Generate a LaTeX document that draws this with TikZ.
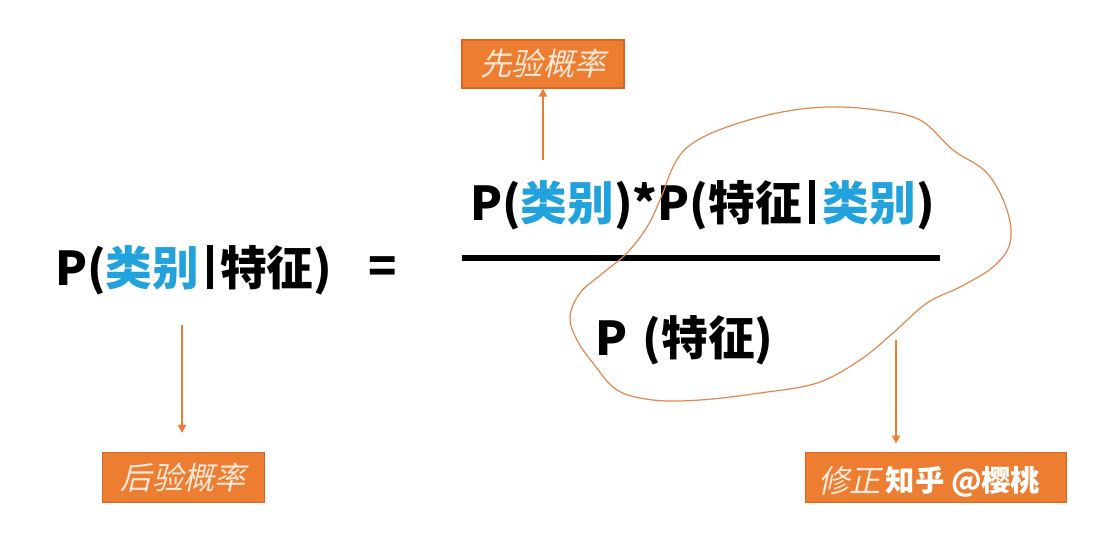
\documentclass[tikz,border=0pt]{standalone}
\usepackage{fontspec}
\setmainfont{Noto Sans CJK SC}
\newfontfamily\boxf{Noto Sans CJK SC}[FakeSlant=0.22]
\usetikzlibrary{arrows.meta}
\definecolor{blu}{HTML}{22A2DC}
\definecolor{org}{HTML}{ED7D31}
\definecolor{orgd}{HTML}{D9661C}
\definecolor{cream}{HTML}{FCE8D8}
\definecolor{loopc}{HTML}{E08850}
\newcommand\mybar{\hspace{0.16em}\rule[-0.08em]{0.13em}{0.95em}\hspace{0.16em}}
\begin{document}
\begin{tikzpicture}[x=0.75pt,y=-0.75pt,
  big/.style={font=\bfseries\fontsize{35}{40}\selectfont, inner sep=0pt, anchor=west},
  lbl/.style={fill=org, draw=orgd, line width=0.8pt, text=cream, inner sep=0pt,
              font=\boxf\fontsize{23.5}{26}\selectfont},
  ptr/.style={draw=org, line width=1.1pt, -{Triangle[length=6pt,width=6pt]}},
  wmark/.style={font=\bfseries\fontsize{22}{26}\selectfont, inner sep=0pt, text=white}]
\useasboundingbox (0,0) rectangle (1096,556);
\fill[white] (0,0) rectangle (1096,556);

% left-hand side
\node[big] (lhs) at (55,270) {P(\textcolor{blu}{类别}\mybar 特征)};
\node[big] (eq) at (368,270) {=};

% fraction
\node[big] (num) at (470,205) {P(\textcolor{blu}{类别})*P(特征\mybar\textcolor{blu}{类别})};
\coordinate (barL) at (462,258);
\coordinate (barR) at (940,258);
\draw[line width=4.5pt] (barL) -- (barR);
\node[big] (den) at (595,340) {P\,\,(特征)};

% labels
\node[lbl, minimum width=121.5pt, minimum height=36pt] (prior) at (543,64) {先验概率};
\node[lbl, minimum width=122pt, minimum height=38pt] (post) at (183.5,477.5) {后验概率};
\node[lbl, minimum width=196pt, minimum height=38pt] (fix) at (936,477.5) {};
\node[text=cream, font=\boxf\fontsize{23.5}{26}\selectfont, inner sep=0pt, anchor=west] (fixt) at (818,481) {修正};
\node[wmark] (wm) at (963,482) {知乎 @樱桃};

% pointers
\coordinate (a1) at (543,160);
\coordinate (a2) at (182,325);
\coordinate (a3) at (896,340);
\draw[ptr] (a1) -- (prior.south);
\draw[ptr, shorten >=14pt] (a2) -- (post.north -| a2);
\draw[ptr, shorten >=6pt] (a3) -- (a3 |- fix.north);

% freehand loop
\draw[loopc, line width=0.9pt] plot[smooth cycle, tension=0.6] coordinates {
 (675,163) (693,143) (727,127) (777,113) (827,107) (877,110) (920,120)
 (953,150) (987,173) (1007,210) (1010,243) (993,267) (960,287) (927,303)
 (893,333) (860,360) (817,383) (760,393) (700,400) (653,400) (617,390)
 (593,363) (577,340) (570,317) (580,293) (603,273) (627,253) (647,227)
 (660,200)};
\end{tikzpicture}
\end{document}
